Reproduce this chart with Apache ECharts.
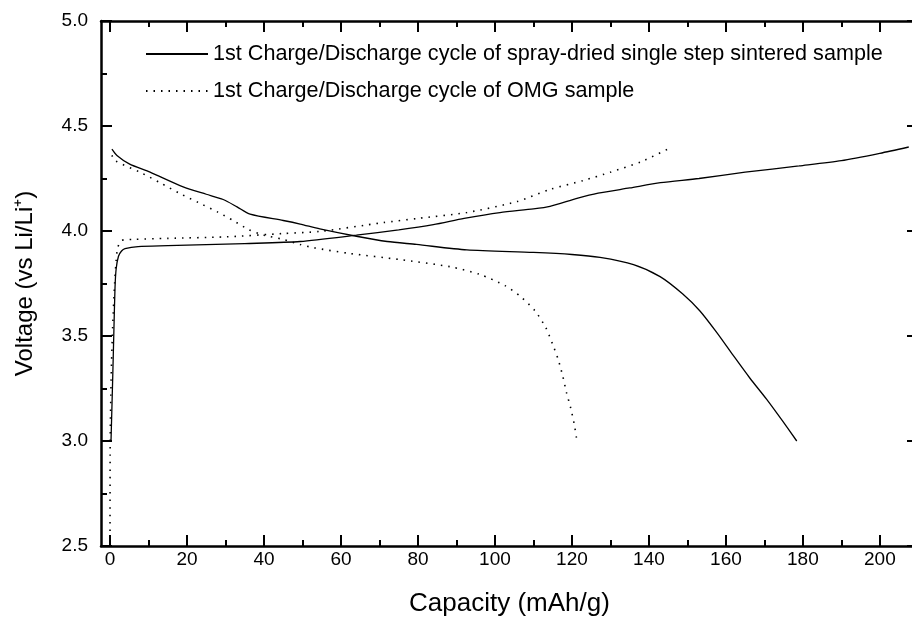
<!DOCTYPE html>
<html>
<head>
<meta charset="utf-8">
<script src="https://cdn.jsdelivr.net/npm/echarts@6/dist/echarts.min.js"></script>
<style>html,body{margin:0;padding:0;background:#fff;}#chart{width:912px;height:617px;}</style>
</head>
<body>
<div id="chart"></div>
<script>
// Spray-dried single step sintered sample
const sprayChargeCap = [0.26, 0.7, 1.0, 1.3, 1.6, 2.2, 3.0, 3.9, 7.3, 15, 25, 35, 49.4, 64, 75, 84, 92, 101.3, 110, 114.3, 121.3, 126.8, 135, 143, 153, 165, 179, 190, 200, 207.5];
const sprayChargeV   = [3.0, 3.3, 3.52, 3.73, 3.82, 3.88, 3.905, 3.916, 3.926, 3.93, 3.935, 3.94, 3.95, 3.98, 4.005, 4.03, 4.06, 4.088, 4.105, 4.117, 4.155, 4.18, 4.205, 4.23, 4.25, 4.28, 4.31, 4.335, 4.37, 4.40];
const sprayDischargeCap = [0.5, 1.8, 5, 10.4, 19, 25, 29.4, 33, 36.4, 45, 49.4, 54.5, 64, 72, 79.6, 92.7, 110, 120, 127.3, 136, 142.9, 148.8, 153.2, 157.6, 161.8, 166.2, 170.6, 174.8, 178.4];
const sprayDischargeV   = [4.39, 4.36, 4.32, 4.28, 4.21, 4.175, 4.15, 4.115, 4.08, 4.05, 4.033, 4.01, 3.975, 3.95, 3.936, 3.91, 3.898, 3.888, 3.874, 3.84, 3.783, 3.70, 3.62, 3.517, 3.41, 3.30, 3.198, 3.093, 3.0];
// OMG sample
const omgChargeCap = [0, 0.05, 0.3, 0.7, 1.2, 1.6, 2.0, 3.0, 6, 15, 30, 45, 54.5, 71, 80, 92.7, 105.7, 114.3, 122.9, 130, 138, 146];
const omgChargeV   = [2.5, 3.0, 3.3, 3.55, 3.75, 3.86, 3.92, 3.955, 3.96, 3.965, 3.972, 3.988, 3.998, 4.04, 4.06, 4.088, 4.14, 4.198, 4.24, 4.28, 4.33, 4.40];
const omgDischargeCap = [0.5, 1.3, 7.8, 13, 18, 23, 28, 32, 36, 40, 45, 49.4, 53, 62.3, 75.3, 88.3, 96.1, 102.6, 106.5, 110.4, 113.2, 115, 116.4, 117.6, 118.6, 119.7, 120.6, 121.3];
const omgDischargeV   = [4.36, 4.335, 4.28, 4.23, 4.18, 4.135, 4.09, 4.05, 4.007, 3.98, 3.96, 3.936, 3.92, 3.893, 3.864, 3.83, 3.793, 3.74, 3.69, 3.62, 3.54, 3.46, 3.39, 3.31, 3.23, 3.155, 3.08, 3.0];

const seriesNames = ['1st Charge/Discharge cycle of spray-dried single step sintered sample', '1st Charge/Discharge cycle of OMG sample'];
const xMajorTicks = [0, 20, 40, 60, 80, 100, 120, 140, 160, 180, 200];
const xMinorTicks = [10, 30, 50, 70, 90, 110, 130, 150, 170, 190];
const xTitle = 'Capacity (mAh/g)';
const yTitle = 'Voltage (vs Li/Li\u207A)';

const FONT = 'Liberation Sans, Arial, Helvetica, sans-serif';
const zip = (a, b) => a.map((v, i) => [v, b[i]]);
const XMIN = -2.34, XMAX = 209.9;

function xAx(pos, ticks, len, showLine, showLabel) {
  return {
    type: 'value', position: pos, min: XMIN, max: XMAX, splitLine: {show: false},
    axisLine: {show: showLine, onZero: false, lineStyle: {color: '#000', width: 2.5}},
    axisTick: {show: true, inside: true, length: len, customValues: ticks, lineStyle: {color: '#000', width: 2}},
    axisLabel: {show: showLabel, customValues: ticks, fontSize: 19, color: '#000', fontFamily: FONT, margin: 4}
  };
}
function yAx(pos, showLabel) {
  return {
    type: 'value', position: pos, min: 2.5, max: 5.0, interval: 0.5, splitLine: {show: false},
    axisLine: {show: true, onZero: false, lineStyle: {color: '#000', width: 2.5}},
    axisTick: {show: true, inside: true, length: 11, lineStyle: {color: '#000', width: 2}},
    minorTick: {show: true, splitNumber: 2, length: 6, lineStyle: {color: '#000', width: 2}},
    axisLabel: {show: showLabel, fontSize: 19, color: '#000', fontFamily: FONT, margin: 13, formatter: v => v.toFixed(1)}
  };
}

const xb = xAx('bottom', xMajorTicks, 11, true, true);
xb.name = xTitle; xb.nameLocation = 'middle'; xb.nameGap = 45;
xb.nameTextStyle = {fontSize: 26, color: '#000', fontFamily: FONT};
const yl = yAx('left', true);
yl.name = yTitle; yl.nameLocation = 'middle'; yl.nameGap = 64; yl.nameRotate = 90;
yl.nameTextStyle = {fontSize: 24, color: '#000', fontFamily: FONT};

const solid = {color: '#000', width: 1.3, type: 'solid'};
const dotted = {color: '#000', width: 1.6, type: [1.5, 6]};
function line(name, data, ls) {
  return {name, type: 'line', data, xAxisIndex: 0, yAxisIndex: 0, symbol: 'none', showSymbol: false,
    smooth: 0.25,
    lineStyle: ls, itemStyle: {color: '#000'}, silent: true, animation: false, clip: true};
}

const chart = echarts.init(document.getElementById('chart'), null, {renderer: 'canvas'});
chart.setOption({
  animation: false,
  backgroundColor: '#fff',
  grid: {left: 101, top: 21, right: -6, bottom: 71, containLabel: false, outerBoundsMode: 'none'},
  legend: {
    data: seriesNames, orient: 'vertical', left: 140, top: 38, itemWidth: 62, itemHeight: 10, itemGap: 15,
    itemStyle: {opacity: 0},
    textStyle: {fontSize: 21.6, color: '#000', fontFamily: FONT}, selectedMode: false
  },
  xAxis: [xb, xAx('bottom', xMinorTicks, 6, false, false), xAx('top', xMajorTicks, 11, true, false), xAx('top', xMinorTicks, 6, false, false)],
  yAxis: [yl, yAx('right', false)],
  series: [
    line(seriesNames[0], zip(sprayChargeCap, sprayChargeV), solid),
    line(seriesNames[0], zip(sprayDischargeCap, sprayDischargeV), solid),
    line(seriesNames[1], zip(omgChargeCap, omgChargeV), dotted),
    line(seriesNames[1], zip(omgDischargeCap, omgDischargeV), dotted)
  ]
});
</script>
</body>
</html>
